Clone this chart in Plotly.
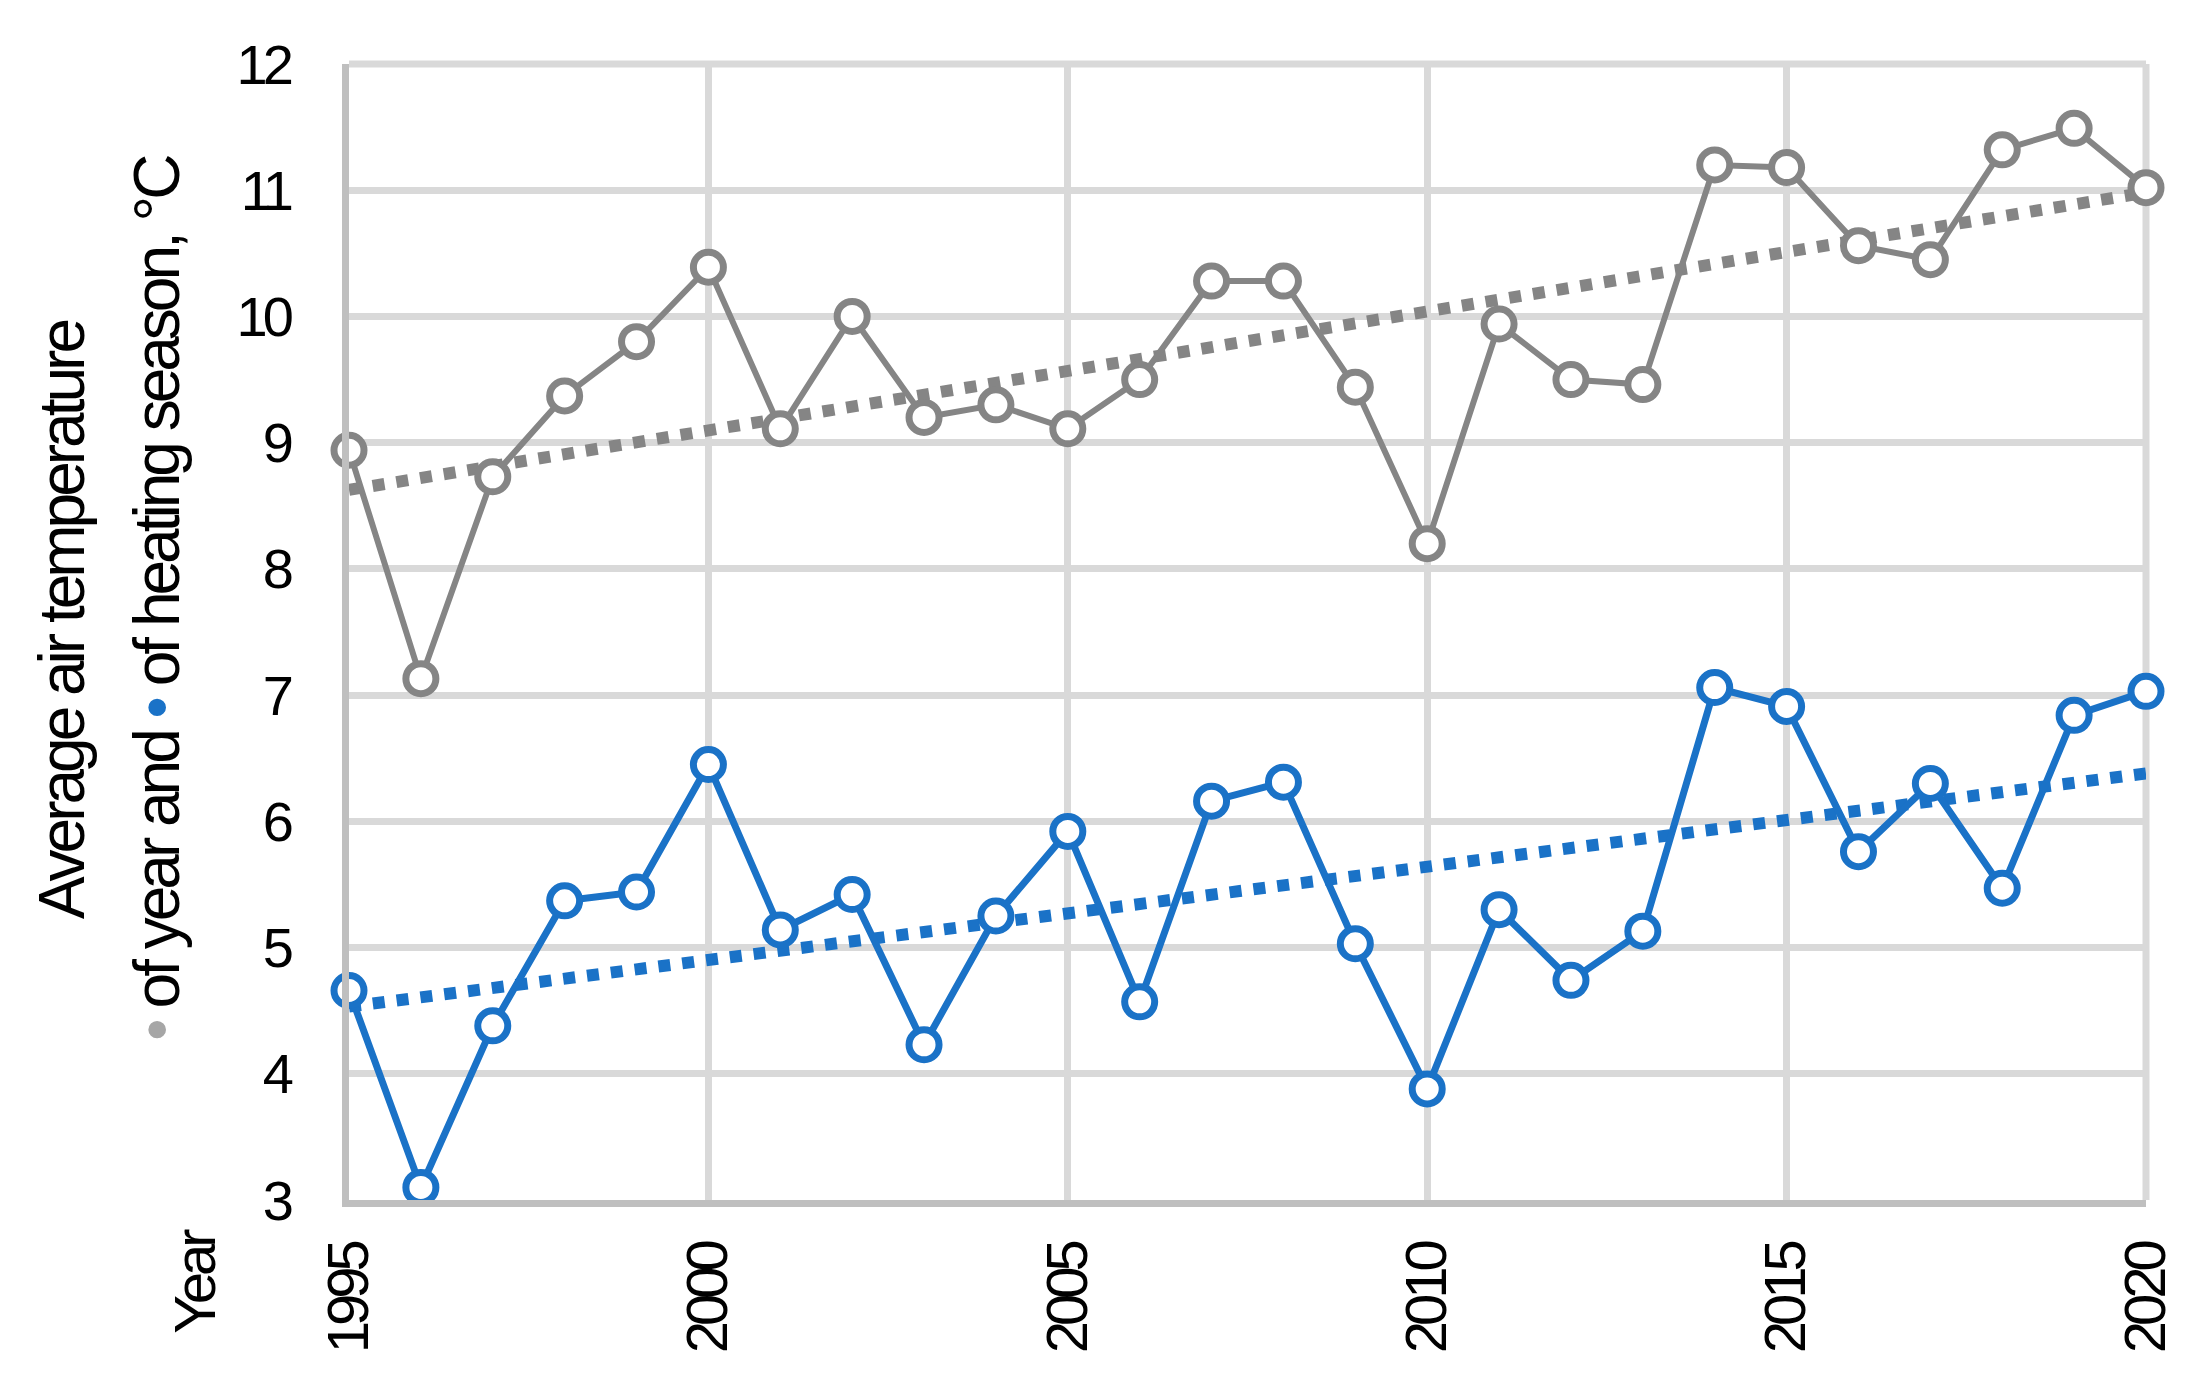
import numpy as np
import plotly.graph_objects as go

years = list(range(1995, 2021))
annual = [8.94, 7.13, 8.73, 9.37, 9.80, 10.39, 9.11, 10.00, 9.20, 9.30,
          9.11, 9.50, 10.28, 10.28, 9.44, 8.20, 9.94, 9.50, 9.46, 11.20,
          11.18, 10.56, 10.45, 11.32, 11.49, 11.02]
heating = [4.66, 3.10, 4.38, 5.37, 5.44, 6.45, 5.14, 5.42, 4.23, 5.25,
           5.92, 4.57, 6.16, 6.31, 5.03, 3.88, 5.30, 4.74, 5.13, 7.06,
           6.91, 5.76, 6.30, 5.47, 6.84, 7.03]
x_ticks = [1995, 2000, 2005, 2010, 2015, 2020]
y_ticks = list(range(3, 13))

GRAY = "#858585"
BLUE = "#1a72c7"
FONT = "Liberation Sans Narrow, Arial Narrow, Liberation Sans, Arial, sans-serif"


def tight(s, ls):
    return '<span style="letter-spacing:%dpx">%s</span>' % (ls, s)


yrs = np.array(years, dtype=float)

fig = go.Figure()
for vals, col in [(annual, GRAY), (heating, BLUE)]:
    k, b = np.polyfit(yrs, np.array(vals), 1)
    fig.add_trace(go.Scatter(x=years, y=list(k * yrs + b), mode="lines",
                             line=dict(color=col, width=12, dash="12px,12px"),
                             hoverinfo="skip", showlegend=False))
for vals, col, lw in [(annual, GRAY, 6), (heating, BLUE, 7)]:
    fig.add_trace(go.Scatter(x=years, y=vals, mode="lines+markers",
                             line=dict(color=col, width=lw),
                             marker=dict(symbol="circle", size=30, color="white",
                                         line=dict(color=col, width=7)),
                             cliponaxis=False, showlegend=False))

fig.update_layout(
    width=2192, height=1381,
    margin=dict(l=341, r=54, t=56, b=189),
    paper_bgcolor="white", plot_bgcolor="white",
    font=dict(family=FONT, size=56, color="black"),
    xaxis=dict(range=[1995, 2020], tickvals=x_ticks,
               ticktext=[tight(str(v), -5) for v in x_ticks],
               tickangle=-90, showgrid=True, gridcolor="#d9d9d9", gridwidth=7,
               showline=True, linecolor="#bfbfbf", linewidth=7, zeroline=False,
               ticks="", ticklabelstandoff=14, tickfont=dict(size=58)),
    yaxis=dict(range=[3, 12], tickvals=y_ticks,
               ticktext=[tight(str(v), -5) for v in y_ticks],
               showgrid=True, gridcolor="#d9d9d9",
               gridwidth=7, showline=True, linecolor="#bfbfbf", linewidth=7,
               zeroline=False, ticks="", ticklabelstandoff=42, tickfont=dict(size=56)),
    shapes=[
        dict(type="line", xref="paper", yref="paper", x0=0, x1=1, y0=1, y1=1,
             line=dict(color="#d9d9d9", width=7), layer="below"),
        dict(type="line", xref="paper", yref="paper", x0=1, x1=1, y0=0, y1=1,
             line=dict(color="#d9d9d9", width=7), layer="below"),
    ],
    annotations=[
        dict(text=tight("Average air temperature", -4), xref="paper", yref="paper",
             x=-0.160, y=0.511, xanchor="center", yanchor="middle", textangle=-90,
             showarrow=False, font=dict(size=64)),
        dict(text=tight('<span style="color:#a6a6a6">•</span> of year and '
                        '<span style="color:%s">•</span> of heating season, °C' % BLUE, -4),
             xref="paper", yref="paper", x=-0.107, y=0.530, xanchor="center",
             yanchor="middle", textangle=-90, showarrow=False, font=dict(size=64)),
        dict(text=tight("Year", -4), xref="paper", yref="paper", x=-0.0857, y=-0.071,
             xanchor="center", yanchor="middle", textangle=-90, showarrow=False,
             font=dict(size=58)),
    ],
)

fig.write_html("out.html")
